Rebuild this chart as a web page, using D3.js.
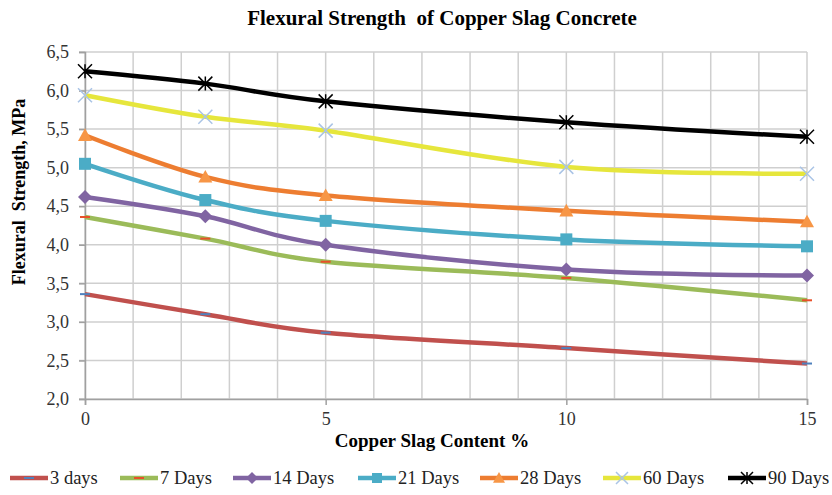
<!DOCTYPE html>
<html>
<head>
<meta charset="utf-8">
<script src="https://cdn.jsdelivr.net/npm/d3@7"></script>
<style>
body { margin: 0; background: #fff; }
text { font-family: "Liberation Serif", "Times New Roman", serif; }
</style>
</head>
<body>
<svg id="chart" width="832" height="495"></svg>
<script>
// copper slag content, %
var content = [0, 2.5, 5, 10, 15];
var days3  = [3.36, 3.10, 2.86, 2.66, 2.46];
var days7  = [4.36, 4.08, 3.78, 3.57, 3.28];
var days14 = [4.62, 4.37, 4.00, 3.68, 3.60];
var days21 = [5.05, 4.58, 4.31, 4.07, 3.98];
var days28 = [5.42, 4.88, 4.64, 4.44, 4.30];
var days60 = [5.94, 5.66, 5.48, 5.01, 4.92];
var days90 = [6.25, 6.09, 5.86, 5.59, 5.40];
var yTicks = [2.0, 2.5, 3.0, 3.5, 4.0, 4.5, 5.0, 5.5, 6.0, 6.5];
var xTicks = [0, 5, 10, 15];

var series = [
    {name: "3 days",  values: days3,  line: "#c0504d", mark: "dash",     mcol: "#4f81bd"},
    {name: "7 Days",  values: days7,  line: "#9bbb59", mark: "dash",     mcol: "#e8502a"},
    {name: "14 Days", values: days14, line: "#8064a2", mark: "diamond",  mcol: "#8064a2"},
    {name: "21 Days", values: days21, line: "#4bacc6", mark: "square",   mcol: "#4bacc6"},
    {name: "28 Days", values: days28, line: "#ed7d31", mark: "triangle", mcol: "#f79646"},
    {name: "60 Days", values: days60, line: "#e6e63c", mark: "x",        mcol: "#aac4e6"},
    {name: "90 Days", values: days90, line: "#000000", mark: "star",     mcol: "#000000"}
];
// legend x positions (line start)
var legendX = [10, 120, 233, 358, 480, 603, 728];

var svg = d3.select("#chart");
var pLeft = 85, pRight = 807, pTop = 52, pBottom = 399;

var x = d3.scaleLinear().domain([0, 15]).range([pLeft, pRight]);
var y = d3.scaleLinear().domain([2, 6.5]).range([pBottom, pTop]);

//grid
var grid = svg.append("g");
grid.selectAll("line.v")
    .data(d3.range(0, 16))
    .enter().append("line")
    .attr("x1", d => x(d)).attr("x2", d => x(d))
    .attr("y1", pTop).attr("y2", pBottom)
    .attr("stroke", "#cfcfcf").attr("stroke-width", 1.5);
grid.selectAll("line.h")
    .data(yTicks)
    .enter().append("line")
    .attr("x1", pLeft - 6).attr("x2", pRight)
    .attr("y1", d => y(d)).attr("y2", d => y(d))
    .attr("stroke", "#cfcfcf").attr("stroke-width", 1.5);

//axes
var yAxis = svg.append("g")
    .attr("transform", "translate(" + pLeft + ",0)")
    .call(d3.axisLeft(y).tickValues(yTicks).tickSize(6).tickFormat(d => d3.format(".1f")(d).replace(".", ",")));
var xAxis = svg.append("g")
    .attr("transform", "translate(0," + pBottom + ")")
    .call(d3.axisBottom(x).tickValues(xTicks).tickSize(6));
[yAxis, xAxis].forEach(function(a){
    a.select(".domain").attr("stroke", "#a0a0a0").attr("stroke-width", 1.5);
    a.selectAll(".tick line").attr("stroke", "#a0a0a0").attr("stroke-width", 1.5);
    a.selectAll(".tick text")
        .attr("font-family", "'Liberation Serif', serif")
        .attr("font-size", 18)
        .attr("fill", "#333");
});
yAxis.selectAll(".tick text").attr("x", -16);
xAxis.selectAll(".tick text").attr("y", 13);

//lines
var line = d3.line()
    .x((d, i) => x(content[i]))
    .y(d => y(d))
    .curve(d3.curveCardinal.tension(0));

function drawMarker(g, type, col, cx, cy, s) {
    if (type == "dash") {
        g.append("rect").attr("x", cx - 5).attr("y", cy - 1).attr("width", 10).attr("height", 2).attr("fill", col);
    } else if (type == "diamond") {
        g.append("path").attr("d", "M" + cx + "," + (cy - s) + "L" + (cx + s) + "," + cy + "L" + cx + "," + (cy + s) + "L" + (cx - s) + "," + cy + "Z").attr("fill", col);
    } else if (type == "square") {
        g.append("rect").attr("x", cx - s + 1).attr("y", cy - s + 1).attr("width", 2 * s - 2).attr("height", 2 * s - 2).attr("fill", col);
    } else if (type == "triangle") {
        g.append("path").attr("d", "M" + cx + "," + (cy - s) + "L" + (cx + s) + "," + (cy + s * 0.8) + "L" + (cx - s) + "," + (cy + s * 0.8) + "Z").attr("fill", col);
    } else if (type == "x") {
        g.append("path").attr("d", "M" + (cx - s) + "," + (cy - s) + "L" + (cx + s) + "," + (cy + s) + "M" + (cx + s) + "," + (cy - s) + "L" + (cx - s) + "," + (cy + s))
            .attr("stroke", col).attr("stroke-width", 1.5);
    } else if (type == "star") {
        g.append("path").attr("d", "M" + (cx - s) + "," + (cy - s) + "L" + (cx + s) + "," + (cy + s) + "M" + (cx + s) + "," + (cy - s) + "L" + (cx - s) + "," + (cy + s) + "M" + cx + "," + (cy - s) + "L" + cx + "," + (cy + s))
            .attr("stroke", col).attr("stroke-width", 1.5);
    }
}

series.forEach(function(s){
    svg.append("path")
        .datum(s.values)
        .attr("d", line)
        .attr("fill", "none")
        .attr("stroke", s.line)
        .attr("stroke-width", 4.5);
});
series.forEach(function(s){
    var g = svg.append("g");
    s.values.forEach(function(v, i){
        drawMarker(g, s.mark, s.mcol, x(content[i]), y(v), 7);
    });
});

//title and axis labels
svg.append("text")
    .attr("x", 442).attr("y", 25)
    .attr("text-anchor", "middle")
    .attr("font-size", 21).attr("font-weight", "bold")
    .style("white-space", "pre")
    .text("Flexural Strength  of Copper Slag Concrete");
svg.append("text")
    .attr("transform", "translate(25,192) rotate(-90)")
    .attr("text-anchor", "middle")
    .attr("font-size", 18).attr("font-weight", "bold")
    .style("white-space", "pre")
    .text("Flexural  Strength, MPa");
svg.append("text")
    .attr("x", 432).attr("y", 447)
    .attr("text-anchor", "middle")
    .attr("font-size", 19).attr("font-weight", "bold")
    .text("Copper Slag Content %");

//legend
var leg = svg.append("g");
series.forEach(function(s, i){
    var lx = legendX[i], ly = 478;
    leg.append("line")
        .attr("x1", lx).attr("x2", lx + 38)
        .attr("y1", ly).attr("y2", ly)
        .attr("stroke", s.line).attr("stroke-width", 4.5);
    drawMarker(leg, s.mark, s.mcol, lx + 19, ly, 6);
    leg.append("text")
        .attr("x", lx + 40).attr("y", ly + 6)
        .attr("font-size", 18.5).attr("fill", "#222")
        .text(s.name);
});
</script>
</body>
</html>
